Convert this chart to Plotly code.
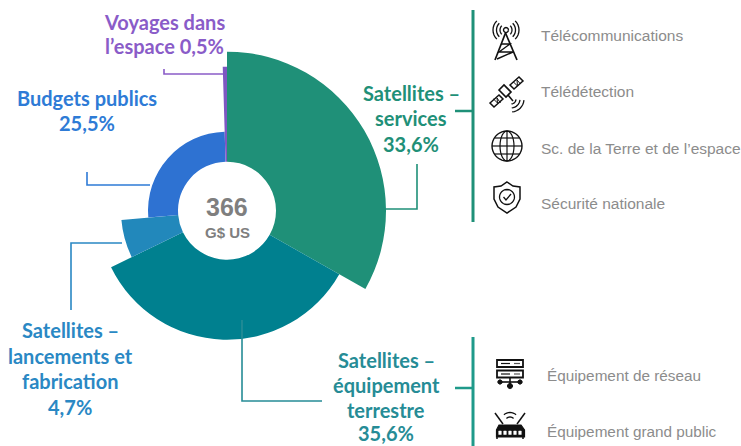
import math
import plotly.graph_objects as go

W, H = 741, 446

# --- data ---
segments = ["Satellites – services", "Satellites – équipement terrestre",
            "Satellites – lancements et fabrication", "Budgets publics", "Voyages dans l’espace"]
shares = [33.6, 35.6, 4.7, 25.5, 0.5]
sweep_deg = [119.5, 124.5, 21.0, 93.3, 1.7]
outer_radius = [159, 129, 106, 79, 144]
total_label = "366"
unit_label = "G$ US"
services_items = ["Télécommunications", "Télédétection", "Sc. de la Terre et de l’espace", "Sécurité nationale"]
equipment_items = ["Équipement de réseau", "Équipement grand public"]

colors = ["#1F9078", "#00808F", "#2288BB", "#2E72D2", "#7E57C2"]
INNER = 49
CX, CY = 227, 210.7
R = 165

starts = [sum(sweep_deg[:i]) for i in range(len(sweep_deg))]
theta = [s + w / 2 for s, w in zip(starts, sweep_deg)]

fig = go.Figure(go.Barpolar(
    r=[o - INNER for o in outer_radius],
    base=INNER,
    theta=theta,
    width=sweep_deg,
    marker=dict(color=colors, line=dict(width=0)),
    text=segments,
    customdata=shares,
    hovertemplate="%{text}: %{customdata}%<extra></extra>",
))

shapes = []
annotations = []


def px(x):
    return x / W


def py(y):
    return 1 - y / H


def poly(pts, color, width=1.5, close=False, fill=None):
    d = "M" + " L".join(f"{px(x):.5f},{py(y):.5f}" for x, y in pts)
    if close:
        d += " Z"
    shapes.append(dict(type="path", xref="paper", yref="paper", path=d,
                       line=dict(color=color, width=width),
                       fillcolor=fill if fill else "rgba(0,0,0,0)"))


def arc(cx, cy, rx, ry, a0, a1, n=24):
    return [(cx + rx * math.cos(math.radians(a0 + (a1 - a0) * i / n)),
             cy + ry * math.sin(math.radians(a0 + (a1 - a0) * i / n))) for i in range(n + 1)]


def text(x, y, s, size, color, family="Lato", bold=False, anchor="center"):
    annotations.append(dict(xref="paper", yref="paper", x=px(x), y=py(y), text=f"<b>{s}</b>" if bold else s,
                            showarrow=False, xanchor=anchor, yanchor="middle",
                            font=dict(size=size, color=color, family=family), align="center"))


# leader lines
PURPLE, BLUE, LBLUE, TEAL, GREEN = "#8A5CC8", "#2E7BD6", "#2A88C4", "#268C96", "#1F9078"
poly([(164, 69), (164, 74), (223, 74)], PURPLE, 1.6)
poly([(87, 172), (87, 185), (150, 185)], BLUE, 1.6)
poly([(71, 310), (71, 243), (122, 243)], LBLUE, 1.6)
poly([(242, 320), (242, 401), (322, 401)], TEAL, 1.6)
poly([(385, 209), (417, 209), (417, 164)], GREEN, 1.6)
poly([(455, 111), (473, 111)], GREEN, 2.5)
poly([(473, 10), (473, 222)], GREEN, 3)
poly([(455, 388), (473, 388)], "#1F9A8A", 2.5)
poly([(473, 337), (473, 446)], "#1F9A8A", 3)

# labels
LS = 20
text(164, 22, "Voyages dans", LS, PURPLE, bold=True)
text(164, 46, "l’espace 0,5%", LS, PURPLE, bold=True)
text(87, 98, "Budgets publics", LS, BLUE, bold=True)
text(87, 123, "25,5%", LS, BLUE, bold=True)
text(411, 93, "Satellites –", LS, GREEN, bold=True)
text(411, 118, "services", LS, GREEN, bold=True)
text(411, 144, "33,6%", LS, GREEN, bold=True)
text(70, 330, "Satellites –", LS, LBLUE, bold=True)
text(70, 356, "lancements et", LS, LBLUE, bold=True)
text(70, 381, "fabrication", LS, LBLUE, bold=True)
text(70, 407, "4,7%", LS, LBLUE, bold=True)
text(386, 360, "Satellites –", LS, TEAL, bold=True)
text(386, 385, "équipement", LS, TEAL, bold=True)
text(386, 410, "terrestre", LS, TEAL, bold=True)
text(386, 432.5, "35,6%", LS, TEAL, bold=True)

GREY = "#8C8C8C"
text(227, 207, total_label, 25, "#7F7F7F", family="Liberation Sans", bold=True)
text(227, 233, unit_label, 15, "#7F7F7F", family="Liberation Sans", bold=True)

for s, y in zip(services_items, [35, 91, 148, 203]):
    text(539, y, s, 15.5, GREY, family="Liberation Sans", anchor="left")
for s, y in zip(equipment_items, [375, 431]):
    text(545, y, s, 15.3, GREY, family="Liberation Sans", anchor="left")

# icons (decorative, black line drawings)
K = "#111111"
# tower
poly([(505.5, 33), (495, 60)], K, 1.7)
poly([(505.5, 33), (517, 60)], K, 1.7)
poly([(501, 44), (510, 44), (499, 52), (513, 52), (497, 59)], K, 1.4)
poly(arc(506, 30, 2.5, 2.5, 0, 360, 12), K, 1.4)
for r_ in (6, 9.5, 13):
    poly(arc(506, 30, r_, r_, -45, 45, 8), K, 1.3)
    poly(arc(506, 30, r_, r_, 135, 225, 8), K, 1.3)
# satellite
poly([(499, 90), (504, 85), (511, 92), (506, 97)], K, 1.6, close=True)
poly([(490, 103), (499, 95), (503, 99), (494, 107)], K, 1.5, close=True)
poly([(493.5, 99), (497.5, 103), (497, 98), (500.5, 103)], K, 1.0)
poly([(510, 85), (519, 77), (523, 81), (514, 89)], K, 1.5, close=True)
poly([(513.5, 82), (517.5, 86), (517, 80), (520.5, 84)], K, 1.0)
poly([(508, 95), (513, 101)], K, 1.5)
for r_ in (5, 9, 13):
    poly(arc(511, 99, r_, r_, 5, 85, 8), K, 1.3)
# globe
poly(arc(507, 146, 15, 15, 0, 360, 36), K, 1.4)
poly(arc(507, 146, 7, 15, 0, 360, 30), K, 1.2)
poly([(507, 131), (507, 161)], K, 1.2)
poly([(492, 146), (522, 146)], K, 1.2)
poly([(495, 138), (519, 138)], K, 1.2)
poly([(495, 154), (519, 154)], K, 1.2)
# shield
poly([(507, 182), (513, 186), (520, 187), (520, 199), (516, 207), (507, 213),
      (498, 207), (494, 199), (494, 187), (501, 186)], K, 1.5, close=True)
poly(arc(507, 197, 7.5, 7.5, 0, 360, 24), K, 1.3)
poly([(503.5, 197), (506, 200), (511, 194)], K, 1.3)
# network rack
poly([(497, 360), (523, 360), (523, 367), (497, 367)], K, 1.8, close=True)
poly([(497, 370.5), (523, 370.5), (523, 377.5), (497, 377.5)], K, 1.8, close=True)
poly([(501, 363.5), (510, 363.5)], K, 1.2)
poly([(501, 374), (510, 374)], K, 1.2)
poly([(514, 363.5), (520, 363.5)], "#555555", 1.2)
poly([(514, 374), (520, 374)], "#555555", 1.2)
poly([(510, 378), (510, 385)], K, 1.6)
poly([(500, 382), (520, 382)], K, 1.6)
for xc, yc, rr in [(500, 382, 2.2), (520, 382, 2.2), (510, 386, 2.6)]:
    poly(arc(xc, yc, rr, rr, 0, 360, 10), K, 1, close=True, fill=K)
# router
poly([(499, 425), (521, 425), (524.5, 430), (524.5, 437), (496.5, 437), (496.5, 430)], K, 1.2, close=True, fill=K)
for x_ in (500, 505, 510, 515, 520):
    poly([(x_ - 1.3, 431), (x_ + 1.3, 431), (x_ + 1.3, 434.5), (x_ - 1.3, 434.5)], "#ffffff", 0.5, close=True, fill="#ffffff")
poly([(497, 437), (497, 439)], K, 1.5)
poly([(523, 437), (523, 439)], K, 1.5)
poly([(495, 413), (503, 424)], K, 1.5)
poly([(525, 413), (517, 424)], K, 1.5)
poly(arc(510, 422, 5, 5, 225, 315, 8), K, 1.3)
poly(arc(510, 422, 9.5, 9.5, 230, 310, 8), K, 1.3)

fig.update_layout(
    width=W, height=H,
    margin=dict(l=0, r=0, t=0, b=0),
    paper_bgcolor="white",
    plot_bgcolor="white",
    showlegend=False,
    shapes=shapes,
    annotations=annotations,
    polar=dict(
        domain=dict(x=[(CX - R) / W, (CX + R) / W], y=[1 - (CY + R) / H, 1 - (CY - R) / H]),
        bgcolor="rgba(0,0,0,0)",
        radialaxis=dict(range=[0, R], visible=False),
        angularaxis=dict(direction="clockwise", rotation=90, visible=False),
        bargap=0,
    ),
)

fig.write_html("out.html", config={"displayModeBar": False},
               post_script="document.body.style.margin='0';document.documentElement.style.overflow='hidden';")
